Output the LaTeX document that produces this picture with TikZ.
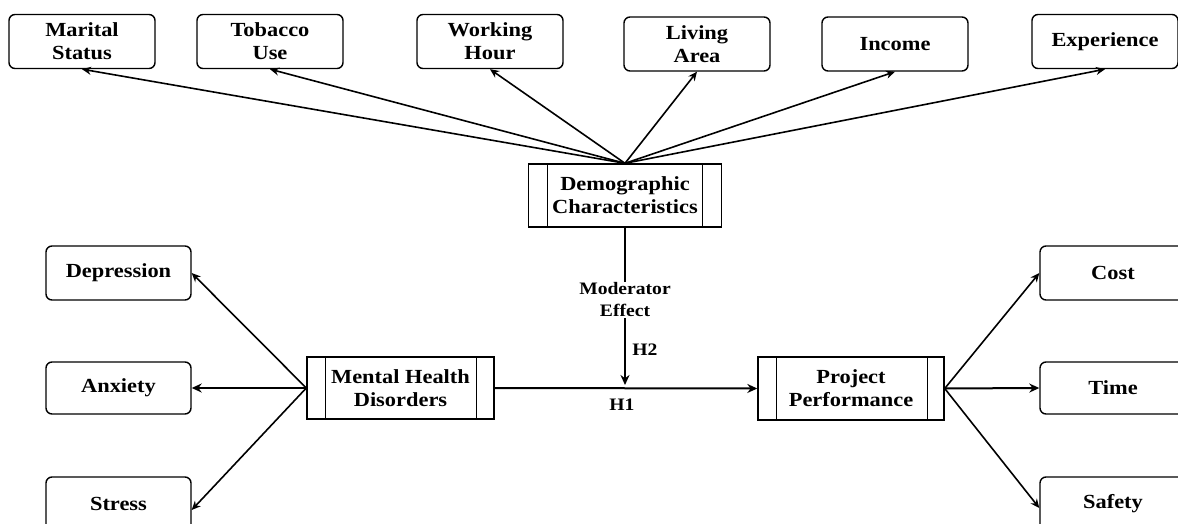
\documentclass[tikz,border=0pt]{standalone}
\usepackage{fontspec}
\setmainfont{Liberation Serif}[FakeStretch=1.12]
\usetikzlibrary{arrows.meta}
\tikzset{
  every node/.style={font=\fontsize{20}{23}\selectfont\bfseries, align=center},
  rbox/.style={draw, line width=1.4pt, rounded corners=6pt, minimum width=146pt, minimum height=54pt, inner sep=0pt},
  dbox/.style={draw, line width=1.4pt, minimum width=#1, minimum height=63pt, inner sep=0pt},
  lbl/.style={font=\fontsize{17.5}{22}\selectfont\bfseries, inner sep=1pt},
  conn/.style={line width=2pt},
  arr/.style={line width=1.6pt, -{Stealth[length=9pt,width=8pt]}},
  tarr/.style={line width=2pt, -{Stealth[length=10pt,width=9pt]}}
}
\begin{document}
\begin{tikzpicture}[x=1pt,y=-1pt]
\useasboundingbox (0,0) rectangle (1178,524);
\fill[white] (0,0) rectangle (1178,524);
% top boxes
\node[rbox] (mar) at (82,41.5) {Marital\\Status};
\node[rbox] (tob) at (270,41.5) {Tobacco\\Use};
\node[rbox] (wor) at (490,41.5) {Working\\Hour};
\node[rbox] (liv) at (697,44) {Living\\Area};
\node[rbox] (inc) at (895,44) {Income};
\node[rbox] (exp) at (1105,41.5) {Experience};
% central boxes
\node[dbox=193pt] (dem) at (625,195.5) {Demographic\\Characteristics};
\node[dbox=187pt, minimum height=62pt] (mhd) at (400.5,388) {Mental Health\\Disorders};
\node[dbox=186pt] (pp) at (851,388.5) {Project\\Performance};
\foreach \n/\a/\b in {dem/20/20, mhd/19/18, pp/19/17}{
  \draw[line width=1.3pt] ([xshift=\a pt]\n.north west) -- ([xshift=\a pt]\n.south west);
  \draw[line width=1.3pt] ([xshift=-\b pt]\n.north east) -- ([xshift=-\b pt]\n.south east);
}
% left boxes
\node[rbox, minimum width=145pt] (dep) at (118.5,273) {Depression};
\node[rbox, minimum width=145pt, minimum height=52pt] (anx) at (118.5,388) {Anxiety};
\node[rbox, minimum width=145pt] (str) at (118.5,504) {Stress};
% right boxes
\node[rbox] (cost) at (1113,273) {Cost};
\node[rbox, minimum height=52pt] (time) at (1113,388) {Time};
\node[rbox] (saf) at (1113,504) {Safety};
% labels
\node[lbl] (mod) at (625,300) {Moderator\\Effect};
\node[lbl] (h2) at (645,350) {H2};
\node[lbl] (h1) at (622,405) {H1};
\coordinate (hmid) at (625,388);
% connectors top
\foreach \t in {mar,tob,wor,liv,inc,exp}{
  \draw[arr] (dem.north) -- (\t.south);
}
% moderator
\draw[conn] (dem.south) -- (mod.north);
\draw[tarr, shorten >=3pt] (mod.south) -- (hmid);
% H1
\draw[tarr] (mhd.east) -- (pp.west);
% left
\draw[arr] (mhd.west) -- (dep.east);
\draw[tarr] (mhd.west) -- (anx.east);
\draw[arr] (mhd.west) -- ([yshift=-6pt]str.east);
% right
\draw[arr] (pp.east) -- (cost.west);
\draw[tarr] (pp.east) -- (time.west);
\draw[arr] (pp.east) -- ([yshift=-4pt]saf.west);
\end{tikzpicture}
\end{document}
